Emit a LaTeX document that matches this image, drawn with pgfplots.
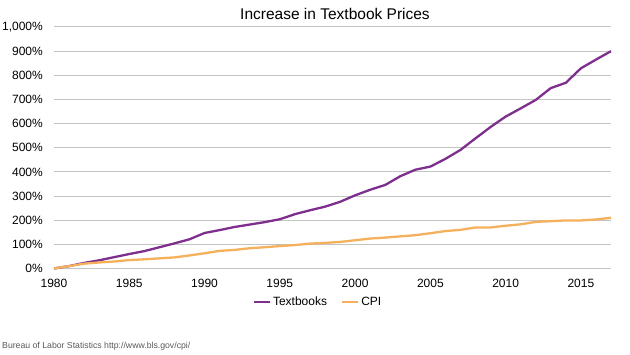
\documentclass[border=0pt]{standalone}
\usepackage{fontspec}
\setmainfont{Liberation Sans}
\usepackage{pgfplots}
\pgfplotsset{compat=1.18}
\definecolor{tbpurple}{HTML}{7E2F8E}
\definecolor{cpiorange}{HTML}{F4B05A}
\definecolor{gridgray}{HTML}{C4C4C4}
\begin{document}
\begin{tikzpicture}[x=1bp,y=1bp]
\path[use as bounding box] (0,0) rectangle (630,354);
\node[anchor=center,inner sep=0pt,font=\fontsize{15.5bp}{18bp}\selectfont] at (335,340) {Increase in Textbook Prices};
\node[anchor=west,inner sep=0pt,text=black!65,font=\fontsize{8.7bp}{10bp}\selectfont] at (2,7.3) {Bureau of Labor Statistics http://www.bls.gov/cpi/};
\begin{axis}[
  at={(54bp,85.5bp)}, anchor=origin,
  scale only axis, width=557bp, height=241.5bp,
  xmin=1980, xmax=2017, ymin=0, ymax=1000,
  xtick={1980,1985,...,2015},
  ytick={0,100,...,1000},
  ymajorgrids,
  grid style={gridgray, line width=1bp},
  axis line style={draw=none},
  major tick length=0pt,
  /pgf/number format/assume math mode=true,
  x tick label style={/pgf/number format/1000 sep={}, inner sep=0pt, anchor=north, yshift=-10bp},
  y tick label style={/pgf/number format/1000 sep={,}, inner sep=0pt, anchor=east, xshift=-11bp},
  yticklabel={\pgfmathprintnumber{\tick}\%},
  tick label style={font=\fontsize{12bp}{14bp}\selectfont},
  legend columns=2,
  legend style={draw=none, fill=none, at={(0.474,-0.139)}, anchor=center,
    font=\fontsize{12bp}{14bp}\selectfont, inner sep=0pt,
    /tikz/every even column/.append style={column sep=12bp}},
  legend image code/.code={\draw[#1] (0bp,0bp) -- (16bp,0bp);},
  clip=false,
]
\addplot[tbpurple, line width=2.3bp] coordinates {
(1980,0) (1981,10) (1982,23) (1983,34) (1984,47) (1985,60) (1986,72) (1987,88)
(1988,104) (1989,121) (1990,147) (1991,159) (1992,172) (1993,182) (1994,192)
(1995,204) (1996,225) (1997,241) (1998,256) (1999,276) (2000,303) (2001,326)
(2002,346) (2003,382) (2004,409) (2005,422) (2006,454) (2007,491) (2008,539)
(2009,586) (2010,629) (2011,663) (2012,698) (2013,747) (2014,769) (2015,829)
(2016,865) (2017,900)
};
\addlegendentry{Textbooks}
\addplot[cpiorange, line width=2.3bp] coordinates {
(1980,0) (1981,10) (1982,20) (1983,25) (1984,29) (1985,35) (1986,38) (1987,42)
(1988,46) (1989,54) (1990,63) (1991,73) (1992,77) (1993,84) (1994,88)
(1995,93) (1996,97) (1997,103) (1998,106) (1999,110) (2000,117) (2001,124)
(2002,128) (2003,133) (2004,138) (2005,146) (2006,155) (2007,160) (2008,170)
(2009,170) (2010,177) (2011,183) (2012,193) (2013,196) (2014,199) (2015,199)
(2016,203) (2017,210)
};
\addlegendentry{CPI}
\end{axis}
\end{tikzpicture}
\end{document}
